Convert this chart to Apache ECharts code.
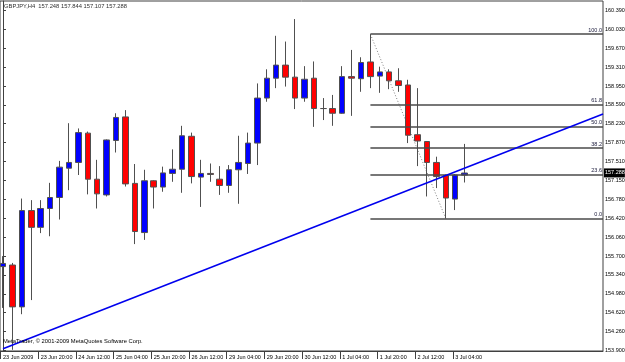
<!DOCTYPE html>
<html>
<head>
<meta charset="utf-8">
<script src="https://cdn.jsdelivr.net/npm/echarts@6/dist/echarts.min.js"></script>
<style>
html,body{margin:0;padding:0;background:#fff;}
#chart{width:625px;height:362px;}
</style>
</head>
<body>
<div id="chart"></div>
<script>
// ---- data (GBPJPY, H4), bar index 0 = 23 Jun 2009 04:00 ----
const symbolTitle = 'GBPJPY,H4';
const copyrightText = 'MetaTrader, \u00A9 2001-2009 MetaQuotes Software Corp.';
const opens  = [155.50,155.53,154.73,156.57,156.25,156.61,156.82,157.38,157.49,158.05,
                157.17,156.87,157.91,158.36,157.09,156.15,157.14,157.02,157.28,157.36,
                157.99,157.21,157.28,157.17,157.05,157.35,157.47,157.86,158.72,159.10,
                159.35,159.12,158.72,159.10,158.52,158.52,158.43,159.13,159.09,159.41,
                159.14,159.22,159.05,158.97,158.02,157.89,157.49,157.24,156.79,157.248];
const closes = [155.56,154.73,156.57,156.25,156.61,156.82,157.40,157.49,158.06,157.17,
                156.89,157.92,158.35,157.08,156.17,157.14,157.02,157.29,157.36,158.00,
                157.22,157.28,157.26,157.05,157.35,157.49,157.86,158.72,159.10,159.35,
                159.12,158.72,159.08,158.52,158.52,158.43,159.13,159.10,159.40,159.13,
                159.22,159.05,158.96,158.01,157.90,157.49,157.22,156.81,157.25,157.288];
const lows   = [154.71,153.91,154.59,154.86,156.14,156.08,156.40,156.96,157.25,156.88,
                156.61,156.84,157.68,157.03,155.93,156.01,156.61,156.93,157.12,156.91,
                157.09,156.64,157.12,156.87,156.91,156.70,157.27,157.44,158.65,158.91,
                158.94,158.51,158.65,158.17,158.30,158.19,158.42,158.38,158.84,158.91,
                158.82,158.89,158.84,157.86,157.42,156.84,157.00,156.42,156.58,157.107];
const highs  = [155.70,155.57,156.80,156.77,156.77,157.10,157.52,158.24,158.14,158.08,
                157.54,157.93,158.43,158.49,157.46,157.35,157.15,157.41,157.74,158.19,
                158.06,157.54,157.47,157.42,157.44,158.00,158.06,159.00,159.27,159.91,
                159.80,160.23,159.33,159.42,158.72,158.78,159.33,159.64,159.50,159.94,
                159.32,159.27,159.29,159.07,158.91,157.90,157.60,157.26,157.27,157.844];

const timeLabels    = ['23 Jun 2009','23 Jun 20:00','24 Jun 12:00','25 Jun 04:00','25 Jun 20:00',
                       '26 Jun 12:00','29 Jun 04:00','29 Jun 20:00','30 Jun 12:00','1 Jul 04:00',
                       '1 Jul 20:00','2 Jul 12:00','3 Jul 04:00'];
const timeLabelBars = [0,4,8,12,16,20,24,28,32,36,40,44,48];

const priceTickLabels = ['153.900','154.260','154.620','154.980','155.340','155.700','156.060',
                         '156.420','156.780','157.150','157.510','157.870','158.230','158.590',
                         '158.950','159.310','159.670','160.030','160.390'];

// trend line (two anchor points: bar index, price)
const trendBars   = [0, 63.69];
const trendPrices = [153.93, 158.418];

// Fibonacci retracement: from high (bar 39) to low (bar 47)
const fibBars   = [39, 47];
const fibPrices = [159.94, 156.42];
const fibLevels = [0, 23.6, 38.2, 50.0, 61.8, 100.0];

// ---- chart ----
const X_MIN = -0.318, X_MAX = 63.69;
const Y_MIN = 153.887, Y_MAX = 160.575;
const FONT = "'Liberation Sans','DejaVu Sans',sans-serif";
const AXIS_FS = 5.5, TITLE_FS = 5.8;

const candleData = opens.map((o, i) => [i, o, closes[i], lows[i], highs[i]]);
const trendData = trendBars.map((b, i) => [b, trendPrices[i]]);
const fibDiag = fibBars.map((b, i) => [b, fibPrices[i]]);
const fibHigh = fibPrices[0], fibLow = fibPrices[1];
const fibMarkData = fibLevels.map(r => {
  const p = fibLow + (fibHigh - fibLow) * r / 100;
  return [
    {coord: [fibBars[0], p], label: {formatter: r.toFixed(1)}},
    {coord: [X_MAX, p]}
  ];
});
const last = opens.length - 1;
const titleText = symbolTitle + '  ' + opens[last].toFixed(3) + ' ' + highs[last].toFixed(3) + ' ' +
                  lows[last].toFixed(3) + ' ' + closes[last].toFixed(3);
const priceTickValues = priceTickLabels.map(Number);

const chart = echarts.init(document.getElementById('chart'), null, {renderer: 'canvas'});
chart.setOption({
  animation: false,
  backgroundColor: '#ffffff',
  title: [
    {text: titleText, left: 4, top: 3, padding: 0,
     textStyle: {fontSize: TITLE_FS, fontWeight: 'normal', color: '#303030', fontFamily: FONT}},
    {text: copyrightText, left: 3, top: 338, padding: 0,
     textStyle: {fontSize: TITLE_FS, fontWeight: 'normal', color: '#000000', fontFamily: FONT}}
  ],
  grid: {left: 0, right: 22, top: 1, bottom: 11, show: true, borderColor: '#404040', borderWidth: 1,
         backgroundColor: 'transparent', containLabel: false, outerBoundsMode: 'none'},
  xAxis: {
    type: 'value', min: X_MIN, max: X_MAX,
    splitLine: {show: false},
    axisLine: {show: true, lineStyle: {color: '#404040', width: 1}},
    axisTick: {show: true, length: 8, inside: false, customValues: timeLabelBars.map(b => b - 0.25),
               lineStyle: {color: '#404040'}},
    axisLabel: {
      customValues: timeLabelBars,
      formatter: v => timeLabels[timeLabelBars.indexOf(Math.round(v))] || '',
      align: 'left', margin: 3, fontSize: AXIS_FS, color: '#000', fontFamily: FONT,
      hideOverlap: false, showMinLabel: true, showMaxLabel: true
    }
  },
  yAxis: {
    type: 'value', position: 'right', min: Y_MIN, max: Y_MAX, scale: true,
    splitLine: {show: false},
    axisLine: {show: true, lineStyle: {color: '#404040', width: 1}},
    axisTick: {show: true, length: 3, customValues: priceTickValues,
               lineStyle: {color: '#404040'}},
    axisLabel: {
      customValues: priceTickValues,
      formatter: v => {
        const k = priceTickValues.indexOf(v);
        return k >= 0 ? priceTickLabels[k] : '';
      },
      margin: 2, fontSize: AXIS_FS, color: '#000', fontFamily: FONT, hideOverlap: false
    }
  },
  series: [
    {
      type: 'line', data: fibDiag, showSymbol: false, silent: true, z: 2,
      lineStyle: {color: '#808080', width: 1, type: [1, 2]},
      markLine: {
        silent: true, symbol: ['none', 'none'], animation: false,
        lineStyle: {color: '#4a4a4a', width: 1.5, type: 'solid'},
        label: {show: true, position: 'insideEndTop', distance: [1, 1], fontSize: AXIS_FS,
                color: '#202040', fontFamily: FONT},
        data: fibMarkData
      }
    },
    {
      type: 'candlestick', data: candleData, encode: {x: 0, y: [1, 2, 3, 4]},
      barWidth: 6, z: 3, silent: true,
      itemStyle: {color: '#0000ff', color0: '#ff0000', borderColor: '#505050',
                  borderColor0: '#505050', borderWidth: 1},
      markLine: {
        silent: true, symbol: ['none', 'none'], animation: false,
        lineStyle: {color: 'rgba(0,0,0,0)', width: 0},
        label: {show: true, position: 'end', distance: 1, fontSize: AXIS_FS, color: '#ffffff',
                backgroundColor: '#000000', padding: [2, 0, 1, 1], fontFamily: FONT,
                formatter: p => closes[last].toFixed(3)},
        data: [{yAxis: closes[last]}]
      }
    },
    {
      type: 'line', data: trendData, showSymbol: false, silent: true, z: 5,
      lineStyle: {color: '#0000ee', width: 1.6}
    }
  ]
});
</script>
</body>
</html>
